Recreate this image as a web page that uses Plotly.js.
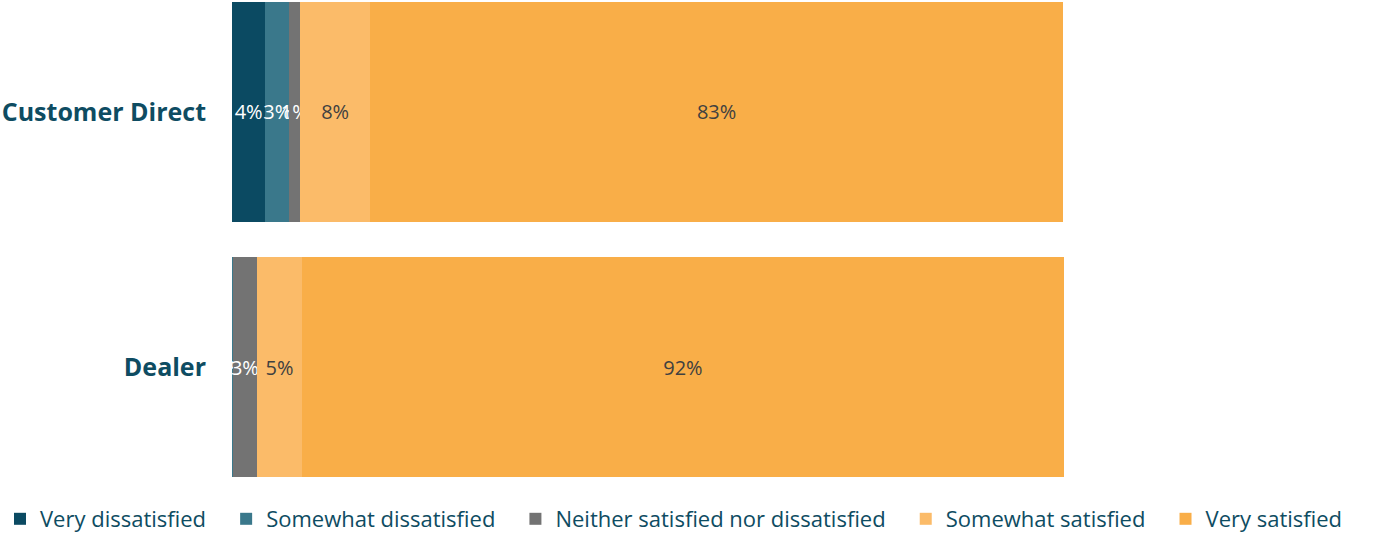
<!DOCTYPE html>
<html><head><meta charset="utf-8">
<script src="https://cdn.plot.ly/plotly-3.0.1.min.js"></script>
<style>html,body{margin:0;padding:0;background:#fff}#chart{width:1378px;height:533px}</style>
</head><body><div id="chart"></div>
<script>
const categories = ["Customer Direct", "Dealer"];
const seriesNames = ["Very dissatisfied", "Somewhat dissatisfied", "Neither satisfied nor dissatisfied", "Somewhat satisfied", "Very satisfied"];
const veryDissatisfied = [4.0, 0.05];
const somewhatDissatisfied = [2.9, 0.05];
const neither = [1.3, 2.9];
const somewhatSatisfied = [8.4, 5.4];
const verySatisfied = [83.3, 91.6];
const colors = ["#0b4a62", "#3a788b", "#737373", "#fbbb69", "#f9ae48"];
const textColors = ["#ffffff", "#ffffff", "#ffffff", "#404040", "#404040"];

const seriesValues = [veryDissatisfied, somewhatDissatisfied, neither, somewhatSatisfied, verySatisfied];
const PAD = "\u00a0\u00a0\u2009";
const traces = seriesValues.map((vals, i) => ({
  type: "bar",
  orientation: "h",
  name: seriesNames[i] + PAD,
  y: categories,
  x: vals,
  text: vals.map(v => Math.round(v) + "%"),
  textposition: "inside",
  insidetextanchor: "middle",
  textangle: 0,
  constraintext: "none",
  cliponaxis: false,
  textfont: {family: "Open Sans, Noto Sans, sans-serif", size: 20, color: textColors[i]},
  marker: {color: colors[i], line: {width: 0}},
  hoverinfo: "none"
}));

const layout = {
  width: 1378, height: 533,
  margin: {l: 0, r: 0, t: 0, b: 0},
  barmode: "stack",
  bargap: 0.137,
  paper_bgcolor: "#fff", plot_bgcolor: "#fff",
  showlegend: true,
  xaxis: {range: [0, 100], domain: [232 / 1378, 1064 / 1378], visible: false, fixedrange: true},
  yaxis: {
    type: "category",
    range: [1.5137, -0.4392],
    showgrid: false, zeroline: false, showline: false,
    ticks: "", ticklabelstandoff: 25,
    tickfont: {family: "Open Sans, Noto Sans, sans-serif", size: 25, color: "#0e4c62", weight: "bold"}
  },
  legend: {
    orientation: "h",
    xref: "paper", yref: "container",
    x: 0, xanchor: "left",
    y: 35 / 533, yanchor: "top",
    traceorder: "normal",
    itemclick: false,
    font: {family: "Open Sans, Noto Sans, sans-serif", size: 22, color: "#0e4c62"},
    itemwidth: 30
  },
  font: {family: "Open Sans, Noto Sans, sans-serif"}
};

Plotly.newPlot("chart", traces, layout, {displayModeBar: false, staticPlot: true});
</script>
</body></html>
